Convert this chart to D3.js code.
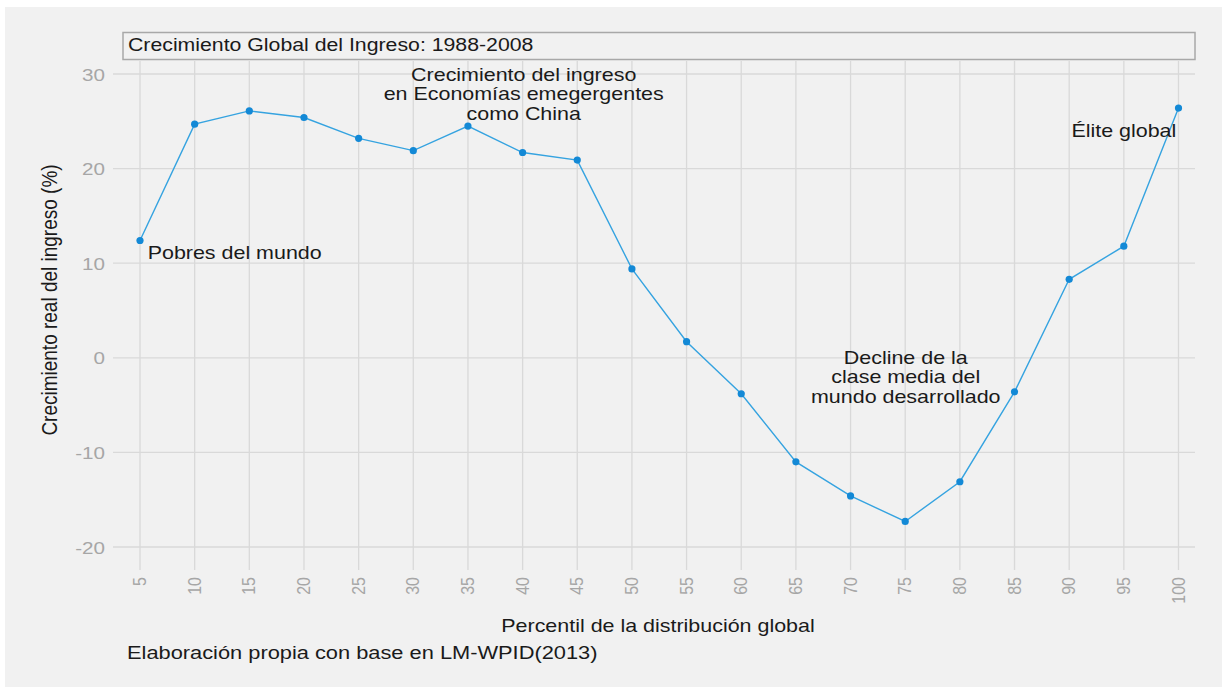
<!DOCTYPE html>
<html lang="es">
<head>
<meta charset="UTF-8">
<title>Crecimiento Global del Ingreso</title>
<script src="https://cdn.jsdelivr.net/npm/d3@7"></script>
<style>
body {
    margin: 0;
    padding: 0;
    background: #ffffff;
    font-family: Arial, 'Liberation Sans', sans-serif;
}
svg text { font-family: Arial, 'Liberation Sans', sans-serif; }
.grid line { stroke: #d9d9d9; stroke-width: 1.3px; }
.tick-label { fill: #a6a6a6; }
</style>
</head>
<body>
<div id="chart"></div>
<script>
// Data
const percentiles = [5, 10, 15, 20, 25, 30, 35, 40, 45, 50, 55, 60, 65, 70, 75, 80, 85, 90, 95, 100];
const growth = [12.4, 24.7, 26.1, 25.4, 23.2, 21.9, 24.5, 21.7, 20.9, 9.4, 1.7, -3.8, -11.0, -14.6, -17.3, -13.1, -3.6, 8.3, 11.8, 26.4];
const yTicks = [-20, -10, 0, 10, 20, 30];

const titleText = "Crecimiento Global del Ingreso: 1988-2008";
const yLabel = "Crecimiento real del ingreso (%)";
const xLabel = "Percentil de la distribución global";
const caption = "Elaboración propia con base en LM-WPID(2013)";

// annotations: anchor in data units, text lines
const notes = [
    { x: 40.1, y: 29.26, anchor: "middle", lines: ["Crecimiento del ingreso", "en Economías emegergentes", "como China"] },
    { x: 5.7, y: 10.4, anchor: "start", lines: ["Pobres del mundo"] },
    { x: 95.0, y: 23.35, anchor: "middle", lines: ["Élite global"] },
    { x: 75.05, y: -0.63, anchor: "middle", lines: ["Decline de la", "clase media del", "mundo desarrollado"] }
];

const width = 1222, height = 687;
const sx = 1.16;   // the picture's text runs a bit wide

const svg = d3.select("#chart").append("svg")
    .attr("width", width).attr("height", height);

// text helper: places text at (px,py) stretched horizontally
function label(px, py, str, size, opts = {}) {
    return svg.append("text")
        .attr("transform", `translate(${px},${py}) scale(${opts.sx || sx},1)` + (opts.rotate ? ` rotate(${opts.rotate})` : ""))
        .attr("text-anchor", opts.anchor || "start")
        .attr("font-size", size)
        .attr("fill", opts.fill || "#1a1a1a")
        .attr("class", opts.cls || null)
        .text(str);
}

// background panel
svg.append("rect")
    .attr("x", 5).attr("y", 7)
    .attr("width", width - 5).attr("height", height - 7)
    .attr("fill", "#f1f1f1");

const x = d3.scaleLinear().domain([5, 100]).range([140, 1178.5]);
const y = d3.scaleLinear().domain([-20, 30]).range([547, 74]);

// title box
svg.append("rect")
    .attr("x", 123).attr("y", 32.5)
    .attr("width", 1072).attr("height", 27)
    .attr("fill", "#f1f1f1")
    .attr("stroke", "#a8a8a8").attr("stroke-width", 1.5);
label(128, 51, titleText, 18.5, { sx: 1.15 });

// grid lines
const grid = svg.append("g").attr("class", "grid");
grid.selectAll("line.h").data(yTicks).enter().append("line")
    .attr("class", "h")
    .attr("x1", 113).attr("x2", 1195)
    .attr("y1", d => y(d)).attr("y2", d => y(d));
grid.selectAll("line.v").data(percentiles).enter().append("line")
    .attr("class", "v")
    .attr("x1", d => x(d)).attr("x2", d => x(d))
    .attr("y1", 61).attr("y2", 570);

// y tick labels
yTicks.forEach(t => label(105, y(t) + 6.5, t, 16.5, { sx: 1.25, anchor: "end", fill: "#a6a6a6" }));

// x tick labels (rotated)
percentiles.forEach(p => label(x(p) + 6, 577, p, 16, { sx: 1.1, anchor: "end", rotate: -90, fill: "#a6a6a6" }));

// axis titles
label(57, 300, yLabel, 19, { sx: 1.12, anchor: "middle", rotate: -90 });
label(658, 632, xLabel, 18.5, { anchor: "middle" });
label(127, 659, caption, 18.5, { sx: 1.18 });

// line + markers
const line = d3.line()
    .x((d, i) => x(percentiles[i]))
    .y(d => y(d));
svg.append("path")
    .datum(growth)
    .attr("fill", "none")
    .attr("stroke", "#35a3e0")
    .attr("stroke-width", 1.4)
    .attr("d", line);
svg.selectAll("circle.pt").data(growth).enter().append("circle")
    .attr("class", "pt")
    .attr("cx", (d, i) => x(percentiles[i]))
    .attr("cy", d => y(d))
    .attr("r", 3.6)
    .attr("fill", "#1389d6");

// annotations
notes.forEach(n => {
    n.lines.forEach((s, i) => {
        label(x(n.x), y(n.y) + i * 19.4, s, 18.5, { anchor: n.anchor });
    });
});
</script>
</body>
</html>
